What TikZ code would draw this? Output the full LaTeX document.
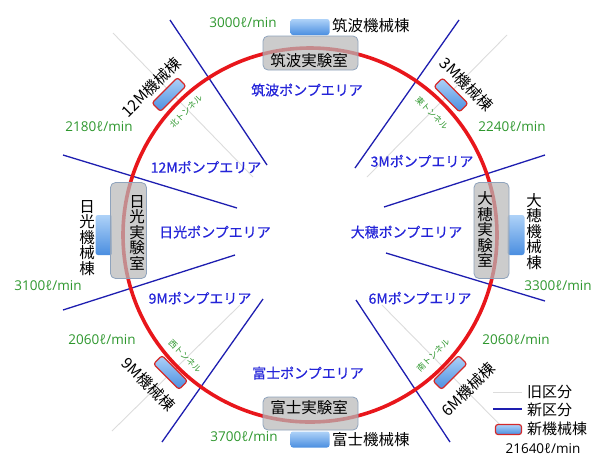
\documentclass[tikz,border=0pt]{standalone}
\usepackage{fontspec}
\setmainfont{Noto Sans CJK JP}
\newfontfamily\latinf{Open Sans}
\newfontfamily\areaf[FakeBold=0.6]{Noto Sans CJK JP}
\begin{document}
\definecolor{ringred}{HTML}{E8161B}
\definecolor{areablue}{HTML}{2424D8}
\definecolor{lineblue}{HTML}{1E1EB0}
\definecolor{rategreen}{HTML}{2E972E}
\definecolor{oldgrey}{HTML}{DCDCDC}
\definecolor{labfill}{HTML}{B8B8B8}
\definecolor{labedge}{HTML}{8FA3BC}
\definecolor{bldtop}{HTML}{AED2F8}
\definecolor{bldbot}{HTML}{4A8EE0}
\definecolor{bldred}{HTML}{D42A2A}
\begin{tikzpicture}[x=1pt,y=-1pt,
  area/.style={text=areablue, font=\areaf\fontsize{14}{14}\selectfont, inner sep=0},
  rate/.style={text=rategreen, font=\latinf\fontsize{13.5}{14}\selectfont, inner sep=0},
  lab/.style={draw=labedge, fill=labfill, fill opacity=0.72, rounded corners=5pt, line width=0.8pt, inner sep=0},
  bld/.style={rounded corners=2.5pt, top color=bldtop, bottom color=bldbot, inner sep=0},
  newbld/.style={bld, draw=bldred, line width=1.2pt, minimum width=36, minimum height=12},
  lbl/.style={font=\fontsize{15.5}{15.5}\selectfont, inner sep=0},
  vlbl/.style={lbl, align=center},
  leglbl/.style={font=\fontsize{15}{15}\selectfont, inner sep=0, anchor=west},
  tunnel/.style={text=rategreen, font=\fontsize{8.5}{9}\selectfont, inner sep=0},
  oldline/.style={draw=oldgrey, line width=0.9pt},
  newline/.style={draw=lineblue, line width=1.3pt},
  ringline/.style={draw=ringred, line width=3.6pt}
]
\useasboundingbox (0,0) rectangle (594,456);
\coordinate (ctr) at (310,235);
% old divisions (grey)
\draw[oldline] (113,33) -- (253,177);
\draw[oldline] (507,35) -- (367,177);
\draw[oldline] (112,431) -- (240,305);
\draw[oldline] (382,305) -- (507,432);
% new divisions (blue)
\draw[newline] (170,20) -- (267,165);
\draw[newline] (63,155) -- (237,208);
\draw[newline] (459,20) -- (355,168);
\draw[newline] (384,207) -- (545,155);
\draw[newline] (63,310) -- (235,255);
\draw[newline] (162,442) -- (263,299);
\draw[newline] (386,253) -- (545,301);
\draw[newline] (356,300) -- (450,442);
% ring
\draw[ringline] (ctr) circle[radius=187];
% experiment halls' machine buildings (behind halls)
\node[bld, minimum width=39, minimum height=16] (tsukubaBld) at (310,27) {};
\node[bld, minimum width=17, minimum height=40] (nikkoBld) at (104,235) {};
\node[bld, minimum width=17, minimum height=40] (ohoBld) at (516,235) {};
\node[bld, minimum width=39, minimum height=16] (fujiBld) at (310,439.5) {};
% experiment halls
\node[lab, minimum width=95, minimum height=34] (tsukubaLab) at (310.5,53) {};
\node[lab, minimum width=36, minimum height=96] (nikkoLab) at (128.5,230.5) {};
\node[lab, minimum width=35, minimum height=96] (ohoLab) at (491.5,230.5) {};
\node[lab, minimum width=95, minimum height=33] (fujiLab) at (310.5,413.5) {};
\node[lbl] (tsukubaLabT) at (309,61) {筑波実験室};
\node[lbl] (fujiLabT) at (309,407.5) {富士実験室};
\node[vlbl] (nikkoLabT) at (137,232.5) {日\\光\\実\\験\\室};
\node[vlbl] (ohoLabT) at (485,229.5) {大\\穂\\実\\験\\室};
% machine building names
\node[lbl, anchor=west] (tsukubaBldT) at (332,26) {筑波機械棟};
\node[lbl, anchor=west] (fujiBldT) at (332,440) {富士機械棟};
\node[vlbl] (nikkoBldT) at (87,238) {日\\光\\機\\械\\棟};
\node[vlbl] (ohoBldT) at (534,231.5) {大\\穂\\機\\械\\棟};
% new machine buildings at tunnels
\node[newbld, rotate=45] (b12) at (169,94.5) {};
\node[newbld, rotate=-45] (b3) at (451,95) {};
\node[newbld, rotate=-45] (b9) at (170.5,372.5) {};
\node[newbld, rotate=45] (b6) at (450,372.5) {};
\node[lbl, rotate=45] (b12T) at (151,87) {12M機械棟};
\node[lbl, rotate=-45] (b3T) at (467,84) {3M機械棟};
\node[lbl, rotate=-45] (b9T) at (149,384) {9M機械棟};
\node[lbl, rotate=45] (b6T) at (468,389) {6M機械棟};
% tunnels
\node[tunnel, rotate=45] (tN) at (186,111) {北トンネル};
\node[tunnel, rotate=-45] (tE) at (432,113) {東トンネル};
\node[tunnel, rotate=-45] (tW) at (185,356) {西トンネル};
\node[tunnel, rotate=45] (tS) at (433,355) {南トンネル};
% pump areas
\node[area] (aTsukuba) at (307,90) {筑波ポンプエリア};
\node[area] (a12) at (206,167) {12Mポンプエリア};
\node[area] (a3) at (422,161) {3Mポンプエリア};
\node[area] (aNikko) at (215,232) {日光ポンプエリア};
\node[area] (aOho) at (406.5,232) {大穂ポンプエリア};
\node[area] (a9) at (200,298) {9Mポンプエリア};
\node[area] (a6) at (420,298) {6Mポンプエリア};
\node[area] (aFuji) at (308,373) {富士ポンプエリア};
% flow rates
\node[rate] (r3000) at (243,23) {3000ℓ/min};
\node[rate] (r2180) at (99,127) {2180ℓ/min};
\node[rate] (r2240) at (512,127) {2240ℓ/min};
\node[rate] (r3100) at (48,286) {3100ℓ/min};
\node[rate] (r3300) at (558,286) {3300ℓ/min};
\node[rate] (r2060a) at (102,340) {2060ℓ/min};
\node[rate] (r2060b) at (516,340) {2060ℓ/min};
\node[rate] (r3700) at (244,437) {3700ℓ/min};
% legend
\coordinate (lg1a) at (493,392); \coordinate (lg1b) at (522,392);
\coordinate (lg2a) at (493,409); \coordinate (lg2b) at (522,409);
\draw[oldline] (lg1a) -- (lg1b);
\draw[newline] (lg2a) -- (lg2b);
\node[bld, draw=bldred, line width=1.2pt, minimum width=26, minimum height=10] (lgBox) at (508.5,429.5) {};
\node[leglbl] (lgOld) at (527,392) {旧区分};
\node[leglbl] (lgNew) at (527,409.5) {新区分};
\node[leglbl] (lgBld) at (527,428.5) {新機械棟};
\node[rate, text=black] (total) at (543,449) {21640ℓ/min};
\end{tikzpicture}
\end{document}
